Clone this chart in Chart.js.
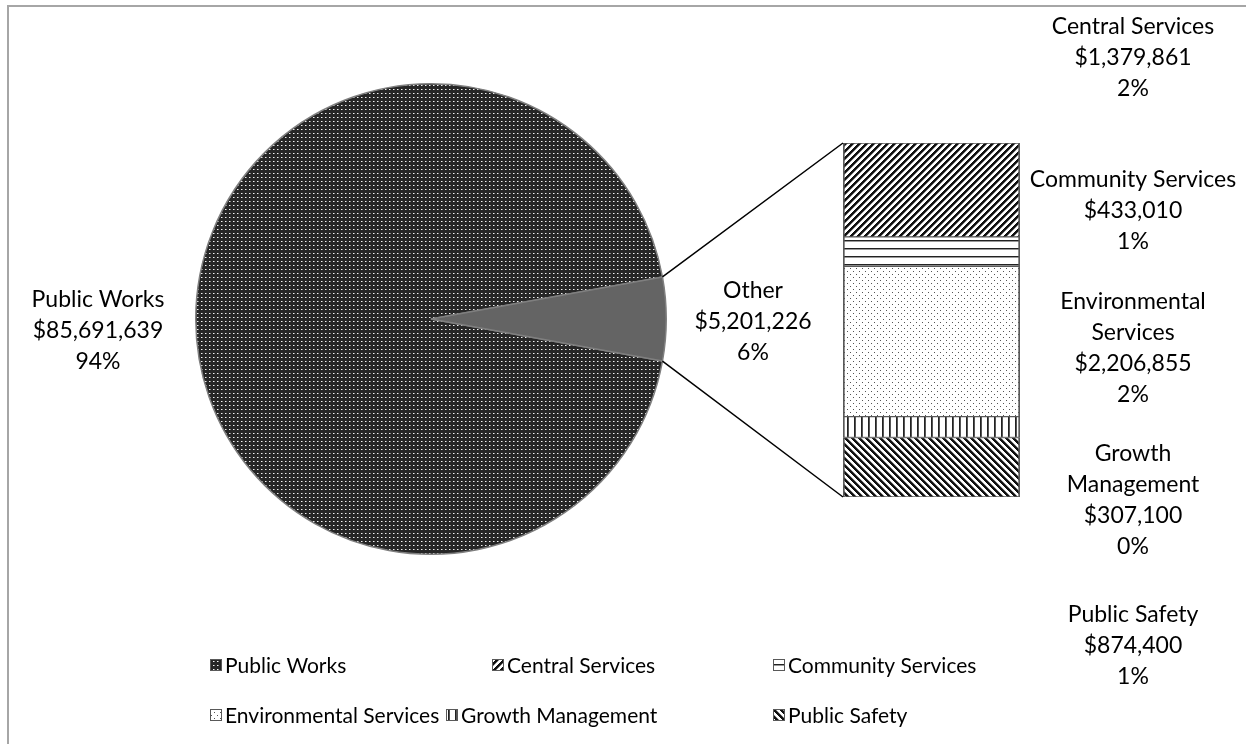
<!DOCTYPE html>
<html>
<head>
<meta charset="utf-8">
<title>Bar of pie</title>
<script src="https://cdn.jsdelivr.net/npm/chart.js@4.4.1/dist/chart.umd.min.js"></script>
<style>
  html, body { margin: 0; padding: 0; background: #fff; }
  #wrap { position: relative; width: 1246px; height: 744px; overflow: hidden; background: #fff; }
  #frame { position: absolute; left: 7px; top: 5px; width: 1300px; height: 800px; border: 2px solid #a6a6a6; box-sizing: border-box; }
  canvas { position: absolute; left: 0; top: 0; }
</style>
</head>
<body>
<div id="wrap">
  <div id="frame"></div>
  <canvas id="pieChart" width="1246" height="744"></canvas>
  <canvas id="barChart" width="1246" height="744"></canvas>
</div>
<script>
// ---- data ----
const pieLabels = ['Public Works', 'Other'];
const pieValues = [85691639, 5201226];
const piePct    = ['94%', '6%'];

const barLabels = ['Central Services', 'Community Services', 'Environmental Services', 'Growth Management', 'Public Safety'];
const barValues = [1379861, 433010, 2206855, 307100, 874400];
const barPct    = ['2%', '1%', '2%', '0%', '1%'];

// how the long names wrap in the data labels
const labelBreaks = {
  'Environmental Services': ['Environmental', 'Services'],
  'Growth Management': ['Growth', 'Management'],
};

// ---- layout ----
const W = 1246, H = 744;
const PIE = { cx: 431, cy: 319, r: 236 };
const BAR = { left: 843, right: 1020, top: 143, bottom: 497 };
const FONT = '23px Lato';
const LEGEND_FONT = '21px Lato';
const LINE_H = 31;
const pieLabelPos = [{ dx: -(236 + 97), dy: 12 }, { dx: 236 + 86, dy: 3 }];
const barLabelDx = 113;
const barLabelY  = [58, 211, 348, 500, 646];
const legendPos  = [[210, 665], [492, 665], [773, 665], [210, 715], [446, 715], [773, 715]];

const fmt = v => '$' + v.toLocaleString('en-US');

// ---- fill patterns ----
function pixelPattern(size, bg, paint) {
  const c = document.createElement('canvas');
  c.width = size; c.height = size;
  const g = c.getContext('2d');
  g.fillStyle = bg;
  g.fillRect(0, 0, size, size);
  for (let y = 0; y < size; y++) {
    for (let x = 0; x < size; x++) {
      const col = paint(x, y);
      if (col) { g.fillStyle = col; g.fillRect(x, y, 1, 1); }
    }
  }
  return g.createPattern(c, 'repeat');
}

const pat = {
  publicWorks: pixelPattern(4, '#262626', (x, y) => (x === 1 && y === 1) ? '#f2f2f2' : (x === 2 && y === 1) ? '#8c8c8c' : null),
  central:     pixelPattern(7, '#ffffff', (x, y) => { const k = (x + y) % 7; return k < 3 ? '#111' : k === 3 ? '#888' : null; }),
  community:   pixelPattern(8, '#ffffff', (x, y) => y === 0 ? '#222' : y === 1 ? '#999' : null),
  environ:     pixelPattern(6, '#ffffff', (x, y) => ((x === 1 && y === 1) || (x === 4 && y === 4)) ? '#555' : null),
  growth:      pixelPattern(7, '#ffffff', (x, y) => x === 0 ? '#222' : x === 1 ? '#555' : null),
  safety:      pixelPattern(7, '#ffffff', (x, y) => { const k = (x - y + 70) % 7; return k < 3 ? '#111' : k === 3 ? '#888' : null; }),
};
const barFills = [pat.central, pat.community, pat.environ, pat.growth, pat.safety];

// ---- helpers ----
function drawLines(ctx, lines, cx, cy) {
  ctx.save();
  ctx.font = FONT;
  ctx.fillStyle = '#000';
  ctx.textAlign = 'center';
  ctx.textBaseline = 'middle';
  const top = cy - (lines.length - 1) * LINE_H / 2;
  lines.forEach((t, i) => ctx.fillText(t, cx, top + i * LINE_H));
  ctx.restore();
}

// ---- pie ----
const pieTotal = pieValues.reduce((s, v) => s + v, 0);
const pwDeg = 360 * pieValues[0] / pieTotal;
const otherDeg = 360 * pieValues[1] / pieTotal;
const pieRotation = 90 - pwDeg - otherDeg / 2;   // centre "Other" on the right

const pieLabelPlugin = {
  id: 'pieLabels',
  afterDatasetsDraw(chart) {
    const arc = chart.getDatasetMeta(0).data[0];
    pieLabels.forEach((name, i) => {
      const p = pieLabelPos[i];
      drawLines(chart.ctx, [name, fmt(pieValues[i]), piePct[i]], arc.x + p.dx, arc.y + p.dy);
    });
  }
};

const legendPlugin = {
  id: 'customLegend',
  afterDraw(chart) {
    const ctx = chart.ctx;
    const names = [pieLabels[0]].concat(barLabels);
    const fills = [pat.publicWorks].concat(barFills);
    ctx.save();
    ctx.font = LEGEND_FONT;
    ctx.textBaseline = 'middle';
    ctx.textAlign = 'left';
    names.forEach((n, i) => {
      const [x, y] = legendPos[i];
      ctx.fillStyle = fills[i];
      ctx.fillRect(x, y - 6, 12, 12);
      ctx.strokeStyle = '#595959';
      ctx.lineWidth = 1;
      ctx.strokeRect(x + 0.5, y - 5.5, 11, 11);
      ctx.fillStyle = '#000';
      ctx.fillText(n, x + 15, y + 1);
    });
    ctx.restore();
  }
};

const pieChart = new Chart(document.getElementById('pieChart'), {
  type: 'pie',
  data: {
    labels: pieLabels,
    datasets: [{
      data: pieValues,
      backgroundColor: [pat.publicWorks, '#646464'],
      borderColor: '#7f7f7f',
      borderWidth: 1.5,
    }]
  },
  options: {
    responsive: false,
    animation: false,
    rotation: pieRotation,
    layout: { padding: { left: PIE.cx - PIE.r, top: PIE.cy - PIE.r, right: W - PIE.cx - PIE.r, bottom: H - PIE.cy - PIE.r } },
    plugins: { legend: { display: false }, tooltip: { enabled: false } },
  },
  plugins: [pieLabelPlugin, legendPlugin],
});

// ---- stacked bar for "Other" ----
const barTotal = barValues.reduce((s, v) => s + v, 0);

const connectorPlugin = {
  id: 'connectors',
  afterDatasetsDraw(chart) {
    const arc = pieChart.getDatasetMeta(0).data[1];
    const n = chart.data.datasets.length;
    const topBar = chart.getDatasetMeta(n - 1).data[0];
    const botBar = chart.getDatasetMeta(0).data[0];
    const a1 = arc.startAngle, a2 = arc.endAngle, R = arc.outerRadius;
    const ctx = chart.ctx;
    ctx.save();
    ctx.strokeStyle = '#000';
    ctx.lineWidth = 1.5;
    ctx.beginPath();
    ctx.moveTo(arc.x + R * Math.cos(a1), arc.y + R * Math.sin(a1));
    ctx.lineTo(topBar.x - topBar.width / 2, topBar.y);
    ctx.moveTo(arc.x + R * Math.cos(a2), arc.y + R * Math.sin(a2));
    ctx.lineTo(botBar.x - botBar.width / 2, botBar.base);
    ctx.stroke();
    ctx.restore();
  }
};

const barLabelPlugin = {
  id: 'barLabels',
  afterDatasetsDraw(chart) {
    const right = chart.chartArea.right;
    barLabels.forEach((name, i) => {
      const lines = (labelBreaks[name] || [name]).concat([fmt(barValues[i]), barPct[i]]);
      drawLines(chart.ctx, lines, right + barLabelDx, barLabelY[i]);
    });
  }
};

// Chart.js stacks from the bottom up, so the first bar category goes last
const barSets = barLabels.map((name, i) => ({
  label: name,
  data: [barValues[i]],
  backgroundColor: barFills[i],
  borderColor: '#595959',
  borderWidth: { left: 2, right: 2, top: 1, bottom: 1 },
  borderSkipped: false,
  barPercentage: 1,
  categoryPercentage: 1,
})).reverse();

const barChart = new Chart(document.getElementById('barChart'), {
  type: 'bar',
  data: { labels: [pieLabels[1]], datasets: barSets },
  options: {
    responsive: false,
    animation: false,
    layout: { padding: { left: BAR.left, top: BAR.top, right: W - BAR.right, bottom: H - BAR.bottom } },
    scales: {
      x: { display: false, stacked: true },
      y: { display: false, stacked: true, min: 0, max: barTotal },
    },
    plugins: { legend: { display: false }, tooltip: { enabled: false } },
  },
  plugins: [connectorPlugin, barLabelPlugin],
});
</script>
</body>
</html>
